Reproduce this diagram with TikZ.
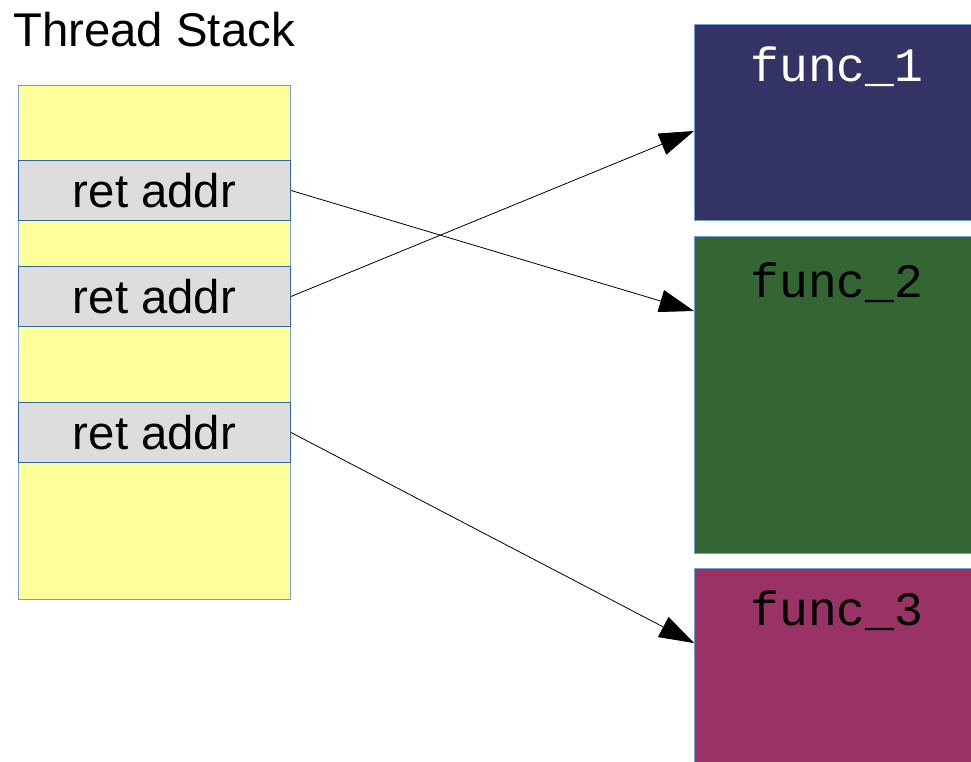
\documentclass[tikz,border=0pt]{standalone}
\usepackage{fontspec}
\setmainfont{Liberation Sans}
\newfontfamily\monofont{Liberation Mono}
\usetikzlibrary{arrows.meta}
\definecolor{stackbg}{HTML}{FFFF99}
\definecolor{stackline}{HTML}{729FCF}
\definecolor{retbg}{HTML}{DDDDDD}
\definecolor{retline}{HTML}{3465A4}
\definecolor{funcA}{HTML}{333366}
\definecolor{funcB}{HTML}{336633}
\definecolor{funcC}{HTML}{993366}
\tikzset{stackbox/.style={draw=stackline,line width=0.75pt,fill=stackbg,anchor=north west,inner sep=0pt,minimum width=204pt},
  retbox/.style={draw=retline,line width=0.75pt,fill=retbg,anchor=north west,inner sep=0pt,minimum width=204pt,minimum height=45pt,font=\fontsize{35.5}{40}\selectfont},
  funcbox/.style={draw=stackline,line width=0.75pt,anchor=north west,inner sep=0pt,minimum width=225pt},
  functext/.style={anchor=base,inner sep=0pt,font=\monofont\fontsize{36}{40}\selectfont},
  callarrow/.style={line width=0.6pt,-{Triangle[length=26pt,width=17pt]}}}
\begin{document}
\begin{tikzpicture}[x=0.75pt,y=-0.75pt]
\useasboundingbox (0,0) rectangle (971,762);
\clip (0,0) rectangle (971,762);
\node[anchor=base west,inner sep=0pt,font=\fontsize{35.5}{40}\selectfont] (title) at (13,47) {Thread Stack};
\node[stackbox,minimum height=385.5pt] (stack) at (18,85) {};
\node[retbox] (ret1) at (18,160) {ret addr};
\node[retbox] (ret2) at (18,266) {ret addr};
\node[retbox] (ret3) at (18,402) {ret addr};
\node[funcbox,fill=funcA,minimum height=147pt] (f1) at (694,24) {};
\node[funcbox,fill=funcB,minimum height=237.75pt] (f2) at (694,236) {};
\node[funcbox,fill=funcC,minimum height=165pt] (f3) at (694,568) {};
\node[functext,white] (f1txt) at (837,82) {func\_1};
\node[functext] (f2txt) at (837,298) {func\_2};
\node[functext] (f3txt) at (837,625) {func\_3};
\draw[callarrow] (ret1.east) -- ([yshift=-56.25pt]f2.north west);
\draw[callarrow] (ret2.east) -- ([yshift=-80.25pt]f1.north west);
\draw[callarrow] (ret3.east) -- ([yshift=-56.25pt]f3.north west);
\end{tikzpicture}
\end{document}
